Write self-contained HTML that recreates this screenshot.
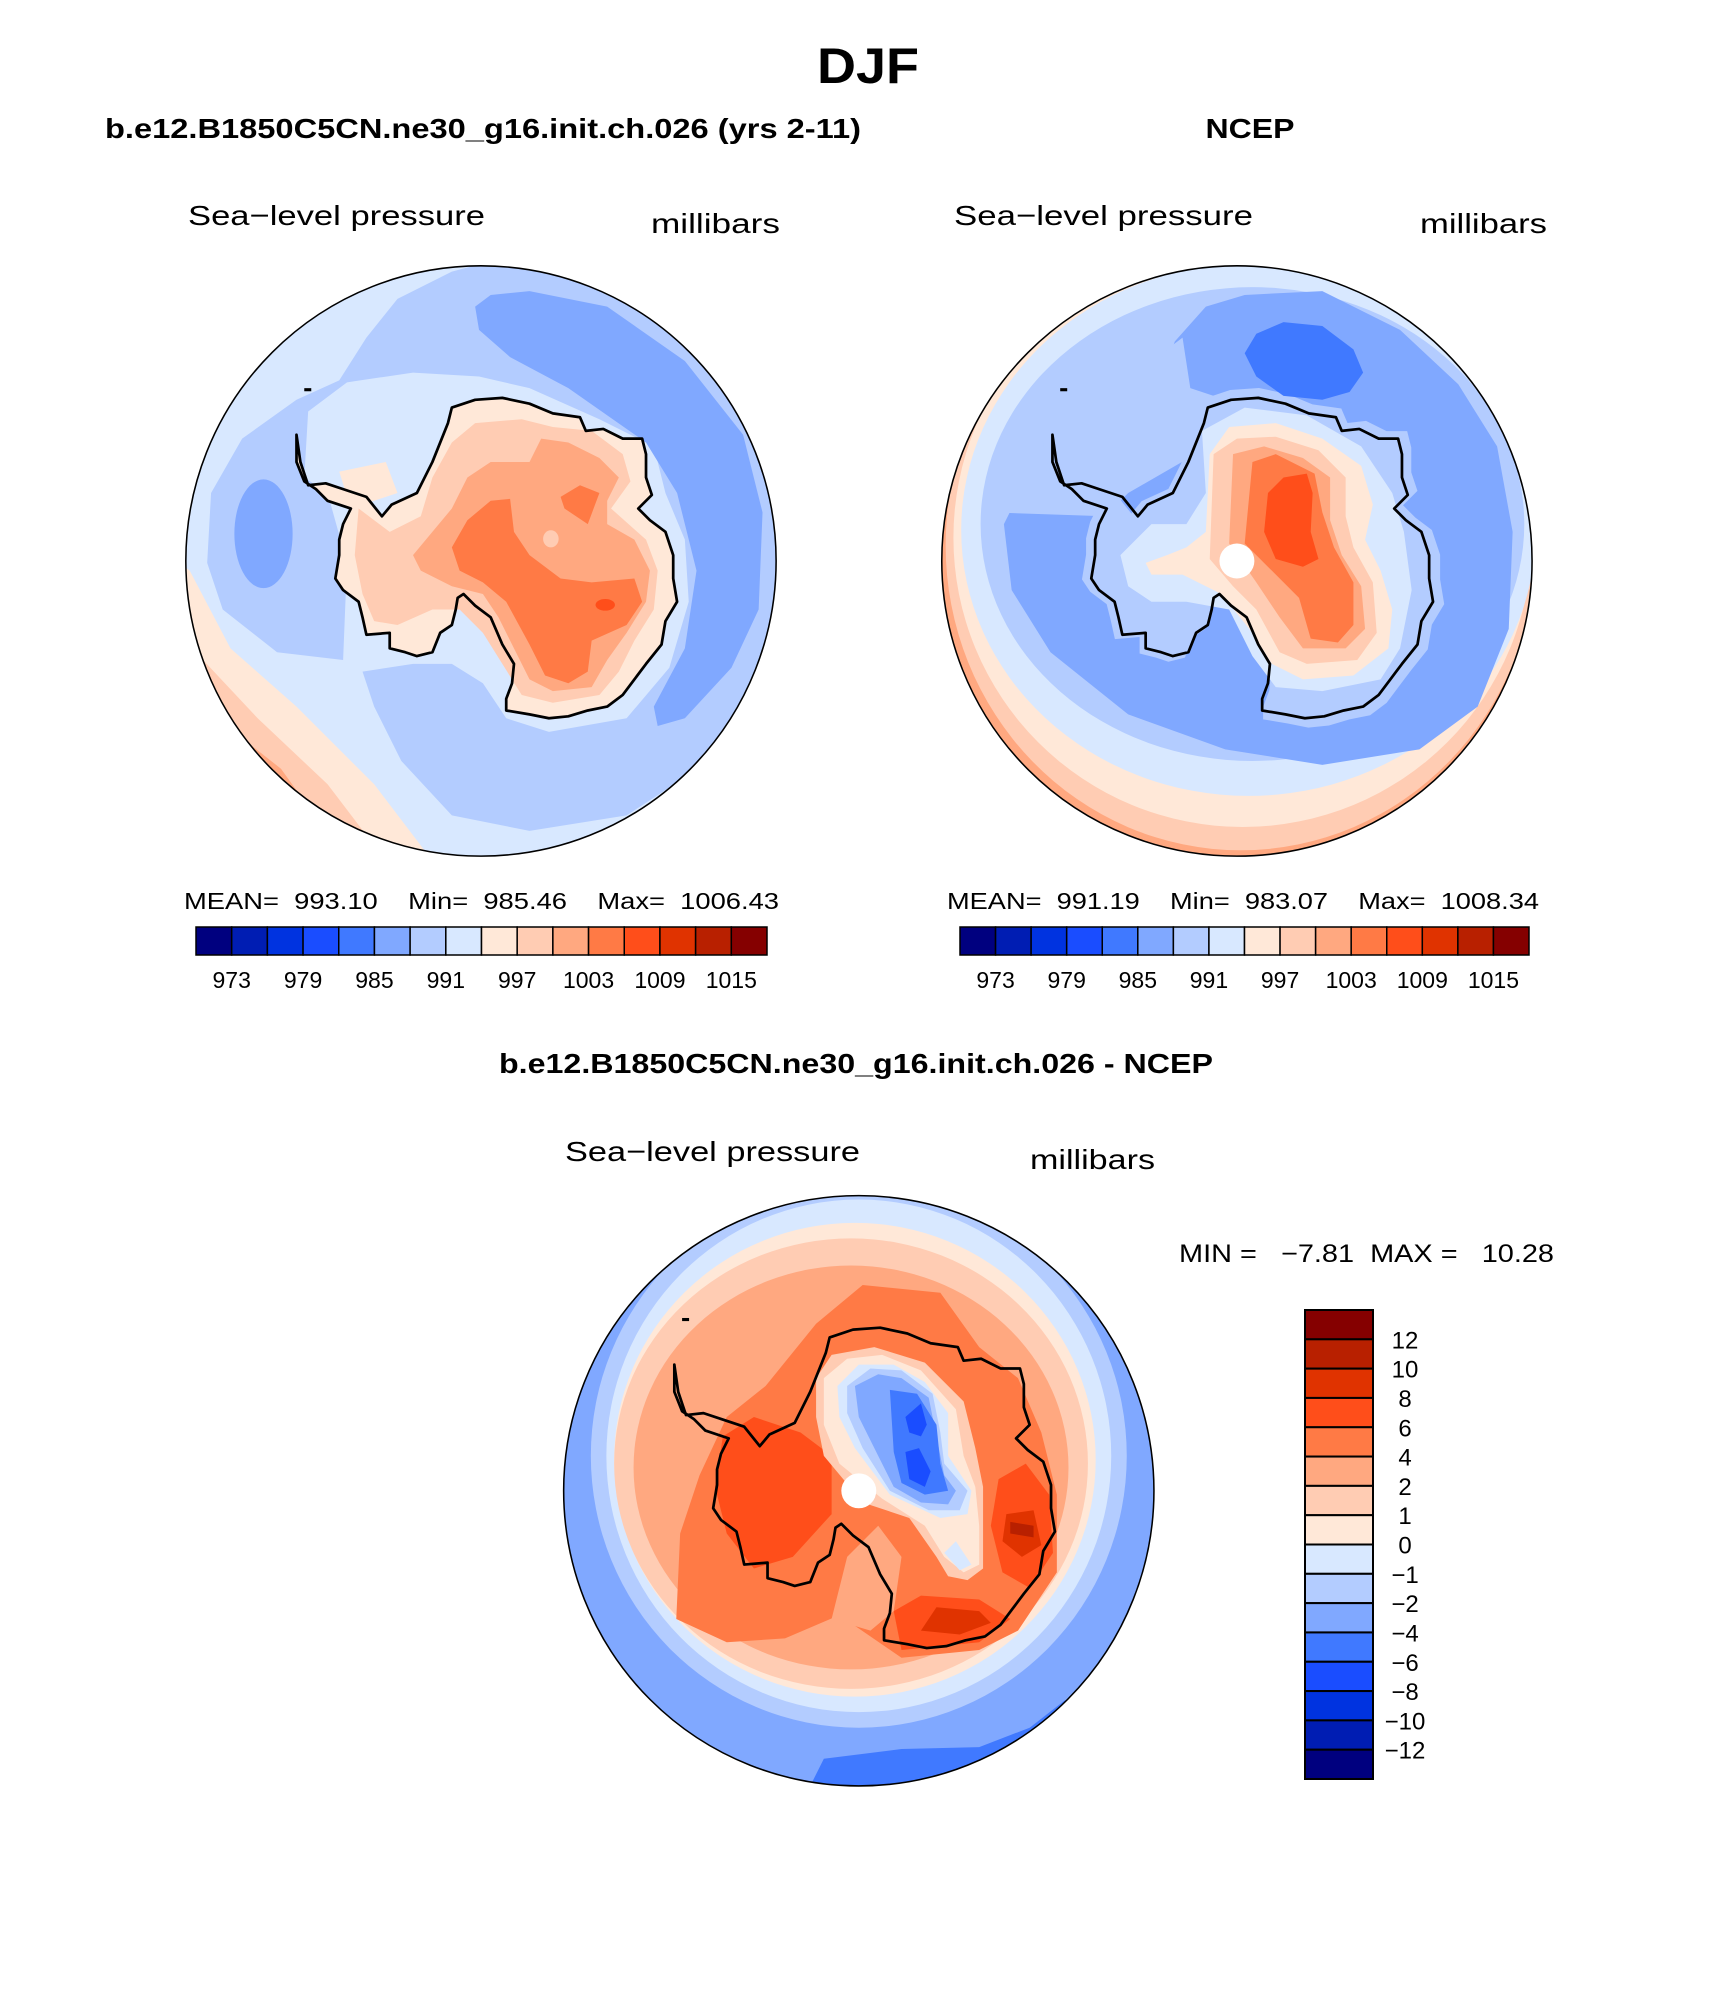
<!DOCTYPE html>
<html><head><meta charset="utf-8"><title>DJF Sea-level pressure</title>
<style>
html,body{margin:0;padding:0;background:#fff;}
svg{display:block;font-family:"Liberation Sans",sans-serif;}
text{white-space:pre;}
</style></head>
<body>
<svg id="root" width="1710" height="2006" viewBox="0 0 1710 2006" xmlns="http://www.w3.org/2000/svg" xml:space="preserve">
<rect x="0" y="0" width="1710" height="2006" fill="#fff"/>
<text x="868" y="83" text-anchor="middle" font-size="50" font-weight="bold" textLength="102" lengthAdjust="spacingAndGlyphs">DJF</text>
<text x="105" y="138" font-size="28" font-weight="bold" textLength="756" lengthAdjust="spacingAndGlyphs">b.e12.B1850C5CN.ne30_g16.init.ch.026 (yrs 2-11)</text>
<text x="1250" y="138" text-anchor="middle" font-size="28" font-weight="bold" textLength="89" lengthAdjust="spacingAndGlyphs">NCEP</text>
<text x="188" y="225" font-size="28" textLength="297" lengthAdjust="spacingAndGlyphs">Sea−level pressure</text>
<text x="651" y="233" font-size="28" textLength="129" lengthAdjust="spacingAndGlyphs">millibars</text>
<text x="954" y="225" font-size="28" textLength="299" lengthAdjust="spacingAndGlyphs">Sea−level pressure</text>
<text x="1420" y="233" font-size="28" textLength="127" lengthAdjust="spacingAndGlyphs">millibars</text>
<text x="184" y="909" font-size="23" textLength="595" lengthAdjust="spacingAndGlyphs">MEAN=  993.10    Min=  985.46    Max=  1006.43</text>
<text x="947" y="909" font-size="23" textLength="592" lengthAdjust="spacingAndGlyphs">MEAN=  991.19    Min=  983.07    Max=  1008.34</text>
<text x="499" y="1073" font-size="28" font-weight="bold" textLength="714" lengthAdjust="spacingAndGlyphs">b.e12.B1850C5CN.ne30_g16.init.ch.026 - NCEP</text>
<text x="565" y="1161" font-size="28" textLength="295" lengthAdjust="spacingAndGlyphs">Sea−level pressure</text>
<text x="1030" y="1169" font-size="28" textLength="125" lengthAdjust="spacingAndGlyphs">millibars</text>
<text x="1179" y="1262" font-size="25" textLength="375" lengthAdjust="spacingAndGlyphs">MIN =   −7.81  MAX =   10.28</text>
<g id="maps"></g>
<g id="bars"></g>
</svg>
<script>
// ---------- colour scale data ----------
const palette = ["#00007f","#001db3","#0033e0","#1a4dff","#4079ff","#80a8ff","#b3ccff","#d8e8ff","#ffe8d8","#ffccb3","#ffa880","#ff7a45","#ff4e1a","#e03300","#b82000","#850000"];
const absLevelLabels = ["973","979","985","991","997","1003","1009","1015"];
const absLabelBoundaries = [1,3,5,7,9,11,13,15];
const diffLevelLabels = ["12","10","8","6","4","2","1","0","−1","−2","−4","−6","−8","−10","−12"];

const NS="http://www.w3.org/2000/svg";
function mk(tag,attrs,parent){const e=document.createElementNS(NS,tag);for(const k in attrs)e.setAttribute(k,attrs[k]);if(parent)parent.appendChild(e);return e;}
const C=palette;

// ---------- horizontal colorbars ----------
const bars=document.getElementById('bars');
function hbar(x0,x1,y0,y1,name){
  const g=mk('g',{},bars);
  
  
  const w=(x1-x0)/palette.length;
  palette.forEach((c,i)=>{
    const r=mk('rect',{x:x0+i*w,y:y0,width:w,height:y1-y0,fill:c,stroke:'#000','stroke-width':1.5},g);
    
    
  });
  absLevelLabels.forEach((lab,i)=>{
    const t=mk('text',{x:x0+absLabelBoundaries[i]*w,y:y1+33,'text-anchor':'middle','font-size':23},g);
    t.textContent=lab;
    
    
  });
}
hbar(196,767,927,955,'model-colorbar');
hbar(960,1529,927,955,'ncep-colorbar');

// vertical colorbar
(function(){
  const g=mk('g',{},bars);
  
  
  const x0=1305,x1=1373,y0=1310,y1=1779,h=(y1-y0)/palette.length;
  for(let i=0;i<palette.length;i++){
    const r=mk('rect',{x:x0,y:y0+i*h,width:x1-x0,height:h,fill:palette[palette.length-1-i],stroke:'#000','stroke-width':2},g);
    
    
  }
  diffLevelLabels.forEach((lab,i)=>{
    const t=mk('text',{x:1405,y:y0+(i+1)*h+9,'text-anchor':'middle','font-size':24},g);
    t.textContent=lab;
    
    
  });
})();

// ---------- maps (shapes in zoom units, 2.575 per px) ----------
const coast=[[300,450],[310,520],[330,580],[375,575],[420,590],[480,610],[520,660],[545,630],[610,600],[650,520],[690,420],[700,380],[760,360],[830,355],[900,370],[960,395],[1030,405],[1045,440],[1090,435],[1140,460],[1190,460],[1200,500],[1200,560],[1215,605],[1180,640],[1210,670],[1250,700],[1270,760],[1270,820],[1280,880],[1250,930],[1240,990],[1200,1040],[1170,1080],[1140,1120],[1100,1150],[1050,1160],[1000,1175],[950,1180],[900,1170],[840,1160],[840,1130],[855,1090],[860,1040],[830,990],[800,920],[760,890],[730,860],[715,870],[710,900],[700,940],[670,960],[650,1010],[610,1020],[580,1010],[540,1000],[540,960],[480,965],[470,920],[460,880],[420,850],[400,820],[410,760],[410,720],[420,680],[440,640],[380,620],[350,590],[320,570],[300,520]];
function pts(a,dx,dy){return a.map(p=>(p[0]+(dx||0))+','+(p[1]+(dy||0))).join(' ');}
function scaled(a,s,cx,cy){return a.map(p=>[cx+(p[0]-cx)*s,cy+(p[1]-cy)*s]);}

const maps=document.getElementById('maps');
function makeMap(id,ox,oy,cx,cy,name,build,cdx,cdy,dot){
  const g=mk('g',{transform:`translate(${ox},${oy}) scale(${1/2.575})`},maps);
  
  
  const defs=mk('defs',{},g);
  const cp=mk('clipPath',{id:'clip'+id},defs);
  mk('circle',{cx:cx,cy:cy,r:760},cp);
  const inner=mk('g',{'clip-path':`url(#clip${id})`},g);
  build(inner);
  const cl=mk('polygon',{points:pts(coast,cdx,cdy),fill:'none',stroke:'#000','stroke-width':7,'stroke-linejoin':'round'},inner);
  
  
  mk('rect',{x:320+cdx,y:330+cdy,width:18,height:8,fill:'#000'},inner);
  if(dot){const d=mk('circle',{cx:cx,cy:cy,r:45,fill:'#fff'},inner);
    
    }
  const ring=mk('circle',{cx:cx,cy:cy,r:760,fill:'none',stroke:'#000','stroke-width':4},g);
  
  
}
function P(g,c,a){mk('polygon',{points:pts(a),fill:c,'stroke-linejoin':'round'},g);}
function E(g,c,cx,cy,rx,ry,rot){mk('ellipse',{cx,cy,rx,ry,fill:c,transform:`rotate(${rot||0} ${cx} ${cy})`},g);}

// Map 1: model
makeMap(1,180,260,775,775,'model-map',g=>{
  mk('rect',{x:0,y:0,width:1600,height:1600,fill:C[7]},g);
  P(g,C[8],[[0,780],[25,800],[130,1000],[300,1150],[500,1350],[660,1560],[0,1600]]);
  P(g,C[9],[[0,900],[50,1020],[200,1180],[380,1350],[540,1560],[0,1600]]);
  P(g,C[10],[[0,1100],[120,1200],[260,1310],[440,1560],[0,1600]]);
  P(g,C[6],[[420,1030],[250,1010],[110,900],[70,780],[80,600],[160,460],[300,360],[410,310],[480,200],[560,100],[700,30],[775,10],[1000,20],[1300,180],[1550,500],[1580,800],[1500,1100],[1350,1300],[1150,1430],[900,1470],[700,1430],[570,1290],[500,1150],[470,1060],[600,1040],[700,1040],[780,1090],[840,1180],[950,1215],[1150,1180],[1260,1050],[1310,880],[1300,720],[1250,600],[1220,480],[1080,410],[900,330],[770,300],[600,290],[430,315],[330,390],[320,560],[380,600],[430,780],[420,1030]]);
  P(g,C[5],[[760,120],[800,90],[900,80],[1100,120],[1300,260],[1450,450],[1500,650],[1490,900],[1420,1050],[1300,1180],[1230,1200],[1220,1150],[1300,1000],[1330,800],[1280,600],[1200,470],[1000,330],[850,250],[770,180]]);
  E(g,C[5],215,705,75,140,0);
  mk('polygon',{points:pts(coast),fill:C[8]},g);
  P(g,C[8],[[410,545],[530,520],[560,600],[440,640]]);
  P(g,C[9],[[460,640],[540,700],[620,660],[650,560],[700,470],[760,420],[880,410],[960,430],[1060,440],[1140,500],[1160,570],[1110,640],[1200,720],[1230,800],[1220,900],[1170,980],[1130,1060],[1080,1120],[960,1140],[880,1120],[830,1040],[780,960],[720,900],[650,900],[560,940],[500,930],[470,860],[450,760]]);
  P(g,C[10],[[600,760],[700,640],[740,560],[800,520],[900,520],[930,460],[1000,470],[1080,510],[1130,560],[1100,620],[1100,680],[1170,720],[1210,800],[1200,880],[1150,960],[1100,1030],[1060,1100],[960,1110],[900,1080],[860,1000],[820,920],[780,860],[700,840],[620,800]]);
  P(g,C[11],[[700,740],[740,670],[800,620],[850,615],[860,700],[900,760],[980,820],[1060,830],[1170,820],[1190,880],[1150,940],[1060,980],[1050,1060],[1000,1090],[940,1070],[900,990],[840,880],[780,830],[720,800]]);
  P(g,C[11],[[980,610],[1030,580],[1080,600],[1050,680],[990,640]]);
  E(g,C[12],1095,888,25,15,0);
  E(g,C[9],955,718,20,22,0);
},0,0,false);

// Map 2: NCEP
makeMap(2,934,260,780,775,'ncep-map',g=>{
  mk('rect',{x:0,y:0,width:1600,height:1600,fill:C[10]},g);
  E(g,C[9],790,735,760,785);
  E(g,C[8],795,715,745,745);
  E(g,C[7],810,695,740,685);
  E(g,C[6],820,680,700,610);
  P(g,C[5],[[620,210],[700,120],[800,90],[1000,80],[1200,180],[1350,320],[1450,480],[1490,700],[1480,950],[1400,1150],[1250,1260],[1000,1300],[750,1260],[500,1170],[300,1010],[200,850],[180,680],[220,600],[300,580],[400,560],[560,380]]);
  P(g,C[6],[[150,650],[250,560],[380,500],[520,360],[600,230],[640,200],[660,330],[720,350],[800,350],[760,450],[500,600],[440,660]]);
  mk('polygon',{points:pts(scaled(coast,1.06,800,780),5,0),fill:C[6]},g);
  P(g,C[7],[[480,760],[560,680],[650,680],[700,600],[690,440],[800,380],[960,400],[1100,480],[1180,600],[1210,700],[1230,850],[1200,1000],[1150,1080],[1000,1110],[880,1100],[820,1020],[760,900],[650,880],[560,880],[500,840]]);
  P(g,C[8],[[545,780],[600,760],[650,740],[700,700],[710,500],[760,430],[880,420],[1000,460],[1100,530],[1130,630],[1110,720],[1150,800],[1180,900],[1170,1000],[1080,1070],[950,1080],[870,1040],[820,960],[740,860],[640,810],[560,810]]);
  P(g,C[9],[[710,770],[720,500],[780,460],[880,455],[990,490],[1060,560],[1060,660],[1080,740],[1130,830],[1140,960],[1090,1030],[960,1040],[890,1010],[830,900],[770,840]]);
  P(g,C[10],[[760,730],[770,500],[850,480],[950,510],[1020,560],[1020,670],[1050,760],[1100,840],[1110,950],[1060,1000],[950,1000],[890,920],[830,830]]);
  P(g,C[11],[[800,730],[820,520],[880,500],[980,550],[1000,650],[1030,740],[1080,830],[1080,940],[1040,985],[970,975],[940,870],[870,800]]);
  P(g,C[12],[[850,700],[860,600],[900,560],[960,550],[975,600],[970,700],[990,770],[950,790],[880,770]]);
  P(g,C[4],[[800,240],[830,190],[900,160],[1000,170],[1080,230],[1105,290],[1070,340],[1000,360],[900,350],[830,300]]);
},5,0,true);

// Map 3: difference
makeMap(3,552,1184,790,790,'diff-map',g=>{
  mk('rect',{x:0,y:0,width:1600,height:1600,fill:C[5]},g);
  P(g,C[4],[[640,1600],[700,1480],[900,1455],[1100,1450],[1230,1400],[1320,1330],[1600,1300],[1600,1600]]);
  E(g,C[6],790,700,690,700);
  E(g,C[7],790,700,650,660);
  E(g,C[8],780,710,620,610);
  E(g,C[9],770,720,610,580);
  E(g,C[10],770,730,560,520);
  P(g,C[11],[[320,1120],[330,900],[380,750],[450,600],[550,520],[680,360],[800,260],[1000,280],[1100,420],[1200,500],[1260,640],[1300,800],[1300,1000],[1200,1150],[1100,1200],[900,1220],[740,1110],[600,1170],[450,1180]]);
  P(g,C[10],[[720,1120],[760,960],[840,880],[900,960],[880,1100],[820,1150]]);
  P(g,C[12],[[440,650],[520,600],[640,640],[720,700],[720,850],[620,960],[520,990],[450,900],[420,780]]);
  P(g,C[12],[[1150,760],[1220,720],[1280,800],[1290,950],[1230,1040],[1160,1000],[1130,880]]);
  P(g,C[12],[[880,1100],[950,1060],[1100,1070],[1180,1120],[1100,1180],[900,1200]]);
  P(g,C[13],[[1170,850],[1240,840],[1260,930],[1210,960],[1160,920]]);
  P(g,C[13],[[950,1150],[990,1090],[1100,1100],[1130,1130],[1050,1160]]);
  P(g,C[14],[[1180,870],[1240,880],[1240,910],[1180,900]]);
  P(g,C[9],[[680,500],[720,440],[830,420],[960,460],[1060,560],[1090,680],[1110,780],[1110,880],[1110,990],[1070,1020],[1020,1010],[990,960],[920,860],[800,820],[700,700],[680,600]]);
  P(g,C[8],[[700,500],[760,450],[850,440],[950,480],[1040,580],[1060,700],[1090,780],[1100,880],[1100,980],[1060,1000],[1010,960],[960,880],[850,810],[740,720],[700,620]]);
  P(g,C[7],[[735,520],[790,465],[880,465],[960,510],[1020,590],[1020,700],[1080,790],[1070,850],[1000,860],[870,800],[780,680],[740,600]]);
  P(g,C[7],[[1010,950],[1040,920],[1080,980],[1050,995]]);
  P(g,C[6],[[760,520],[820,475],[900,480],[980,540],[1000,640],[1010,720],[1070,790],[1050,840],[970,840],[870,790],[800,680],[760,590]]);
  P(g,C[5],[[780,520],[840,490],[900,500],[970,550],[990,650],[1010,750],[1040,790],[1020,825],[950,820],[880,780],[840,700],[790,600]]);
  P(g,C[4],[[870,530],[940,540],[990,620],[1000,720],[1020,790],[960,800],[900,770],[880,690]]);
  P(g,C[3],[[910,600],[950,565],[965,620],[950,650],[920,640]]);
  P(g,C[3],[[910,690],[945,680],[975,740],[960,780],[920,760]]);
},15,15,true);
</script>
</body></html>
